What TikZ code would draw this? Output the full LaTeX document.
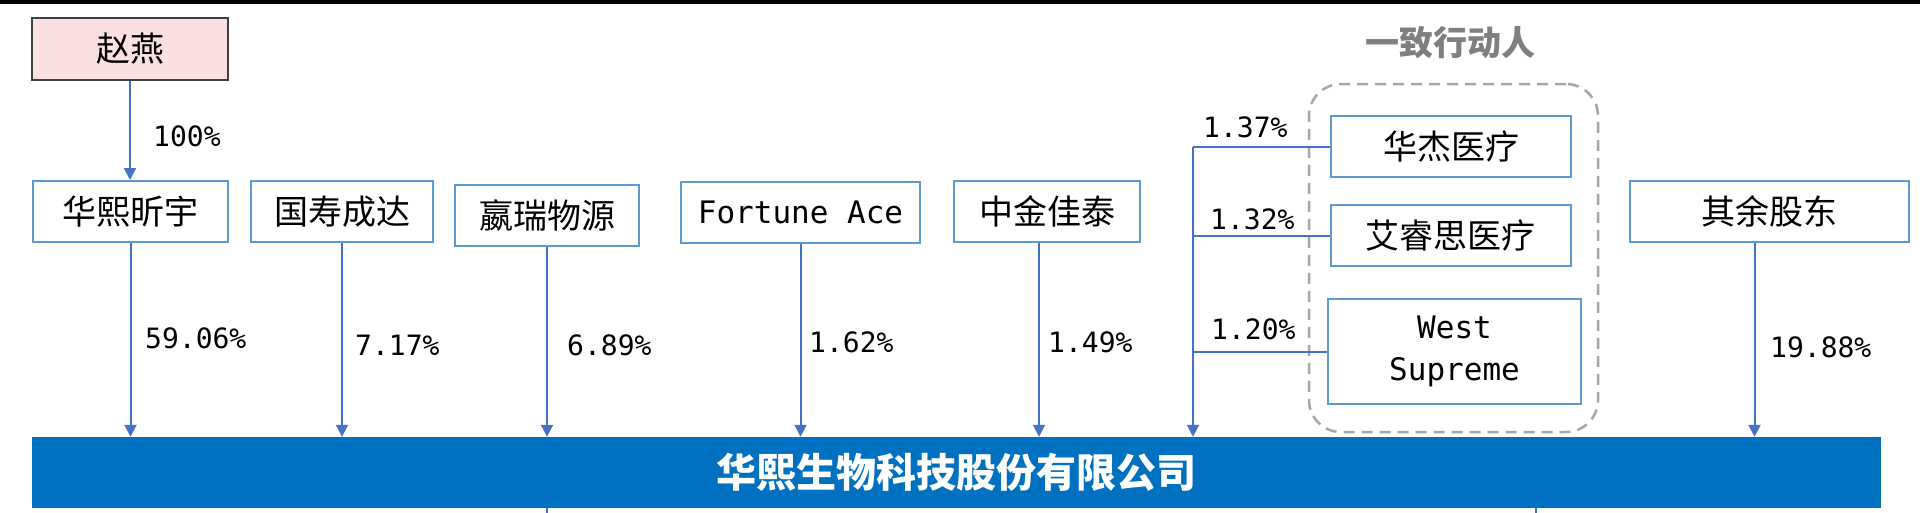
\documentclass[tikz,border=0pt]{standalone}
\usepackage{fontspec}
\setmainfont{Noto Sans CJK SC}
\newfontfamily\monofont{DejaVu Sans Mono}
\usetikzlibrary{arrows.meta}
\definecolor{box_blue}{RGB}{91,155,213}
\definecolor{line_blue}{RGB}{68,114,196}
\definecolor{bar_blue}{RGB}{0,112,192}
\definecolor{pink_fill}{RGB}{250,224,224}
\definecolor{dark_gray}{RGB}{64,64,64}
\definecolor{dash_gray}{RGB}{166,166,166}
\definecolor{text_gray}{RGB}{127,127,127}

\begin{document}
\begin{tikzpicture}[x=1pt,y=-1pt,
	holder/.style={rectangle,draw=box_blue,line width=2pt,fill=white,inner sep=0pt,minimum height=61pt,font=\fontsize{34}{40}\selectfont},
	pct/.style={anchor=west,inner sep=0pt,font=\monofont\fontsize{28}{32}\selectfont},
	link/.style={draw=line_blue,line width=2pt},
	share/.style={link,-{Triangle[width=12pt,length=12pt]}}]
	\useasboundingbox (0,0) rectangle (1920,512);
	\fill[black] (0,0) rectangle (1920,4);

	\node[rectangle,draw=dash_gray,dashed,dash pattern=on 11pt off 7pt,line width=2.5pt,rounded corners=32pt,minimum width=289pt,minimum height=348pt] (grp) at (1453.5,258) {};
	\node[text=text_gray,font=\fontsize{34}{40}\bfseries] (yzxdr) at (1450,43) {一致行动人};

	\node[holder,fill=pink_fill,draw=dark_gray,minimum width=196pt,minimum height=62pt] (zy) at (130,49) {赵燕};
	\node[holder,minimum width=195pt] (hxxy) at (130.5,211.5) {华熙昕宇};
	\node[holder,minimum width=182pt] (gscd) at (342,211.5) {国寿成达};
	\node[holder,minimum width=184pt] (yrwy) at (547,215.5) {嬴瑞物源};
	\node[holder,minimum width=239pt,font=\monofont\fontsize{31}{40}\selectfont] (fa) at (800.5,212.5) {Fortune Ace};
	\node[holder,minimum width=186pt] (zjjt) at (1047,211.5) {中金佳泰};
	\node[holder,minimum width=240pt] (hjyl) at (1451,146.5) {华杰医疗};
	\node[holder,minimum width=240pt] (arsyl) at (1450.5,235.5) {艾睿思医疗};
	\node[holder,minimum width=253pt,minimum height=105pt,align=center,font=\monofont\fontsize{31}{42}\selectfont] (ws) at (1454.5,351.5) {West\\Supreme};
	\node[holder,minimum width=279pt] (qygd) at (1769.5,211.5) {其余股东};
	\node[rectangle,fill=bar_blue,inner sep=0pt,minimum width=1849pt,minimum height=71pt,text=white,font=\fontsize{40}{48}\bfseries] (hx) at (956.5,472.5) {华熙生物科技股份有限公司};

	\draw[share] (zy.south) -- (zy.south |- hxxy.north);
	\foreach \n/\d in {hxxy/0,gscd/0,yrwy/0,fa/0,zjjt/-8,qygd/-15}
		\draw[share] ([xshift=\d pt]\n.south) -- ([xshift=\d pt]\n.south |- hx.north);

	\coordinate (trunk) at (1193,146.5);
	\draw[link] (hjyl.west) -- (trunk);
	\draw[link] (arsyl.west) -- (arsyl.west -| trunk);
	\draw[link] (ws.west) -- (ws.west -| trunk);
	\draw[share] (trunk) -- (trunk |- hx.north);

	\draw[link] (hx.south -| yrwy.south) -- ++(0,6);
	\draw[link] (1536,0 |- hx.south) -- ++(0,6);

	\foreach \t/\x/\y [count=\i] in {100\%/153/136,59.06\%/145/338,7.17\%/355/345,6.89\%/567/345,1.62\%/809/342,1.49\%/1048/342,19.88\%/1770/347,1.37\%/1203/127,1.32\%/1210/219,1.20\%/1211/329}
		\node[pct] (p\i) at (\x,\y) {\t};
\end{tikzpicture}
\end{document}
